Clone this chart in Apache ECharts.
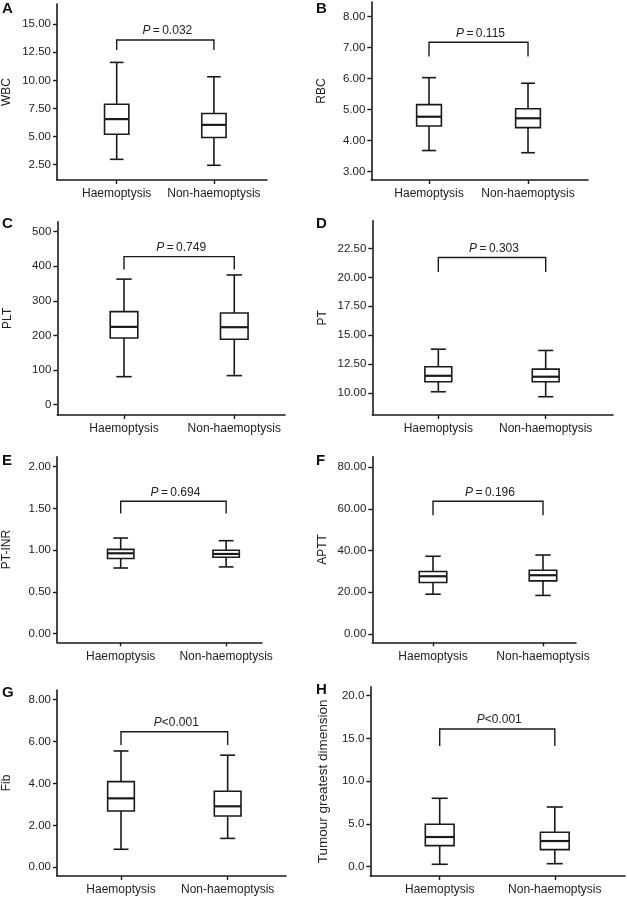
<!DOCTYPE html>
<html>
<head>
<meta charset="utf-8">
<script src="https://cdn.jsdelivr.net/npm/echarts@6/dist/echarts.min.js"></script>
<style>html,body{margin:0;padding:0;background:#fff}#c{width:627px;height:898px}</style>
</head>
<body>
<div id="c"></div>
<script>
// ---------- DATA ----------
const categories = ['Haemoptysis', 'Non-haemoptysis'];
const panelLetters = ['A', 'B', 'C', 'D', 'E', 'F', 'G', 'H'];
const yNames = ['WBC', 'RBC', 'PLT', 'PT', 'PT-INR', 'APTT', 'Fib', 'Tumour greatest dimension'];
// [min, Q1, median, Q3, max] for Haemoptysis, Non-haemoptysis
const wbcBox  = [[2.97, 5.20, 6.55, 7.88, 11.60], [2.44, 4.92, 6.04, 7.05, 10.32]];
const rbcBox  = [[3.68, 4.47, 4.77, 5.16, 6.03], [3.61, 4.42, 4.72, 5.03, 5.85]];
const pltBox  = [[81, 193, 225, 269, 363], [84, 189, 224, 265, 375]];
const ptBox   = [[10.11, 10.97, 11.49, 12.27, 13.79], [9.68, 10.97, 11.41, 12.07, 13.68]];
const inrBox  = [[0.787, 0.90, 0.963, 1.01, 1.146], [0.80, 0.915, 0.955, 1.00, 1.114]];
const apttBox = [[19.0, 24.6, 27.6, 29.9, 37.2], [18.4, 25.4, 28.1, 30.5, 37.8]];
const fibBox  = [[0.86, 2.69, 3.29, 4.09, 5.55], [1.38, 2.45, 2.91, 3.63, 5.35]];
const tumBox  = [[0.28, 2.46, 3.47, 4.96, 8.0], [0.35, 1.99, 3.0, 4.02, 6.98]];
const pLabels = ['0.032', '0.115', '0.749', '0.303', '0.694', '0.196', '<0.001', '<0.001'];
// bracket [top, leg end] in data units
const brackets = [[13.6, 12.7], [7.17, 6.71], [428, 391], [21.72, 20.46], [1.586, 1.44], [63.6, 56.9], [6.47, 5.84], [16.1, 14.1]];
// tick labels
const wbcTicks  = [2.5, 5, 7.5, 10, 12.5, 15];
const rbcTicks  = [3, 4, 5, 6, 7, 8];
const pltTicks  = [0, 100, 200, 300, 400, 500];
const ptTicks   = [10, 12.5, 15, 17.5, 20, 22.5];
const inrTicks  = [0, 0.5, 1, 1.5, 2];
const apttTicks = [0, 20, 40, 60, 80];
const fibTicks  = [0, 2, 4, 6, 8];
const tumTicks  = [0, 5, 10, 15, 20];
const tickDecimals = [2, 2, 0, 2, 2, 2, 2, 1];

const boxes = [wbcBox, rbcBox, pltBox, ptBox, inrBox, apttBox, fibBox, tumBox];
const ticks = [wbcTicks, rbcTicks, pltTicks, ptTicks, inrTicks, apttTicks, fibTicks, tumTicks];

// ---------- LAYOUT ----------
const layout = [
  {l: 56, t: 4, r: 360, b: 718, xmin: 0.386, xmax: 2.546, ymin: 1.13, ymax: 16.8, lx: 2, ly: 1},
  {l: 371.3, t: 2, r: 39, b: 718, xmin: 0.417, xmax: 2.606, ymin: 2.73, ymax: 8.47, lx: 316, ly: 1},
  {l: 57.3, t: 221.7, r: 342, b: 483, xmin: 0.395, xmax: 2.46, ymin: -29.8, ymax: 529, lx: 2, ly: 216},
  {l: 372.3, t: 220.7, r: 14, b: 483, xmin: 0.385, xmax: 2.627, ymin: 8.1, ymax: 24.9, lx: 316, ly: 216},
  {l: 55, t: 456.7, r: 365, b: 255.7, xmin: 0.396, xmax: 2.34, ymin: -0.103, ymax: 2.12, lx: 2, ly: 453},
  {l: 372.3, t: 456.7, r: 51, b: 255.7, xmin: 0.448, xmax: 2.3, ymin: -4.1, ymax: 85, lx: 316, ly: 453},
  {l: 55.7, t: 690, r: 341, b: 22, xmin: 0.40, xmax: 2.547, ymin: -0.415, ymax: 8.46, lx: 2, ly: 685},
  {l: 370.3, t: 686.7, r: 2, b: 22, xmin: 0.397, xmax: 2.61, ymin: -1.09, ymax: 21.05, lx: 316, ly: 682}
];

const FONT = '"Liberation Sans", Arial, sans-serif';
const INK = '#1a1a1a';

function boxRender(params, api) {
  const x = api.value(0);
  const pMin = api.coord([x, api.value(1)]);
  const pQ1 = api.coord([x, api.value(2)]);
  const pMed = api.coord([x, api.value(3)]);
  const pQ3 = api.coord([x, api.value(4)]);
  const pMax = api.coord([x, api.value(5)]);
  const bl = api.coord([x - 0.125, api.value(3)])[0];
  const br = api.coord([x + 0.125, api.value(3)])[0];
  const cl = api.coord([x - 0.07, api.value(3)])[0];
  const cr = api.coord([x + 0.07, api.value(3)])[0];
  const ls = {stroke: INK, lineWidth: 1.6, fill: null};
  return {
    type: 'group',
    children: [
      {type: 'line', shape: {x1: pMin[0], y1: pMin[1], x2: pQ1[0], y2: pQ1[1]}, style: ls},
      {type: 'line', shape: {x1: pQ3[0], y1: pQ3[1], x2: pMax[0], y2: pMax[1]}, style: ls},
      {type: 'line', shape: {x1: cl, y1: pMin[1], x2: cr, y2: pMin[1]}, style: ls},
      {type: 'line', shape: {x1: cl, y1: pMax[1], x2: cr, y2: pMax[1]}, style: ls},
      {type: 'rect', shape: {x: bl, y: pQ3[1], width: br - bl, height: pQ1[1] - pQ3[1]},
        style: {stroke: INK, lineWidth: 1.6, fill: '#fff'}},
      {type: 'line', shape: {x1: bl, y1: pMed[1], x2: br, y2: pMed[1]}, style: {stroke: INK, lineWidth: 2.2}}
    ]
  };
}

function bracketRender(params, api) {
  const a = api.coord([api.value(0), api.value(2)]);
  const b = api.coord([api.value(1), api.value(2)]);
  const a2 = api.coord([api.value(0), api.value(3)]);
  const b2 = api.coord([api.value(1), api.value(3)]);
  const p = pLabels[params.seriesIndex / 2 | 0];
  return {
    type: 'group',
    children: [
      {type: 'polyline', shape: {points: [a2, a, b, b2]}, style: {stroke: INK, lineWidth: 1.4, fill: null}},
      {type: 'text', x: (a[0] + b[0]) / 2 + 2, y: a[1] - 3,
        style: {
          text: '{i|P}{n|' + (p.charAt(0) === '<' ? p : '\u2009=\u2009' + p) + '}',
          align: 'center', verticalAlign: 'bottom',
          rich: {
            i: {fontFamily: FONT, fontSize: 12, fontStyle: 'italic', fill: '#222'},
            n: {fontFamily: FONT, fontSize: 12, fill: '#222'}
          }
        }}
    ]
  };
}

const grid = [], xAxis = [], yAxis = [], series = [], graphic = [];
layout.forEach((g, i) => {
  grid.push({left: g.l, top: g.t, right: g.r, bottom: g.b, containLabel: false});
  xAxis.push({
    type: 'value', gridIndex: i, min: g.xmin, max: g.xmax,
    splitLine: {show: false},
    axisLine: {show: true, onZero: false, lineStyle: {color: INK, width: 1.6}},
    axisTick: {show: true, length: 4, customValues: [1, 2], lineStyle: {color: INK, width: 1.4}},
    axisLabel: {customValues: [1, 2], formatter: v => categories[Math.round(v) - 1],
      fontFamily: FONT, fontSize: 12, color: '#222', margin: 8}
  });
  yAxis.push({
    type: 'value', gridIndex: i, min: g.ymin, max: g.ymax,
    splitLine: {show: false},
    name: yNames[i], nameLocation: 'middle', nameGap: i === 7 ? 40 : 44,
    nameTextStyle: {fontFamily: FONT, fontSize: i === 7 ? 13.5 : 12, color: '#222'},
    axisLine: {show: true, onZero: false, lineStyle: {color: INK, width: 1.6}},
    axisTick: {show: true, length: 4, customValues: ticks[i], lineStyle: {color: INK, width: 1.4}},
    axisLabel: {customValues: ticks[i], formatter: v => Number(v).toFixed(tickDecimals[i]),
      fontFamily: FONT, fontSize: 11.5, color: '#222', margin: 6}
  });
  series.push({
    type: 'custom', xAxisIndex: i, yAxisIndex: i, renderItem: boxRender,
    encode: {x: 0, y: [1, 2, 3, 4, 5]},
    data: boxes[i].map((b, k) => [k + 1].concat(b)),
    silent: true
  });
  series.push({
    type: 'custom', xAxisIndex: i, yAxisIndex: i, renderItem: bracketRender,
    encode: {x: [0, 1], y: [2, 3]},
    data: [[1, 2, brackets[i][0], brackets[i][1]]],
    silent: true
  });
  graphic.push({type: 'text', left: g.lx, top: g.ly,
    style: {text: panelLetters[i], font: 'bold 15px ' + FONT, fill: '#111'}});
});

const chart = echarts.init(document.getElementById('c'), null, {renderer: 'canvas'});
chart.setOption({
  animation: false,
  backgroundColor: '#fff',
  grid, xAxis, yAxis, series, graphic
});
</script>
</body>
</html>
